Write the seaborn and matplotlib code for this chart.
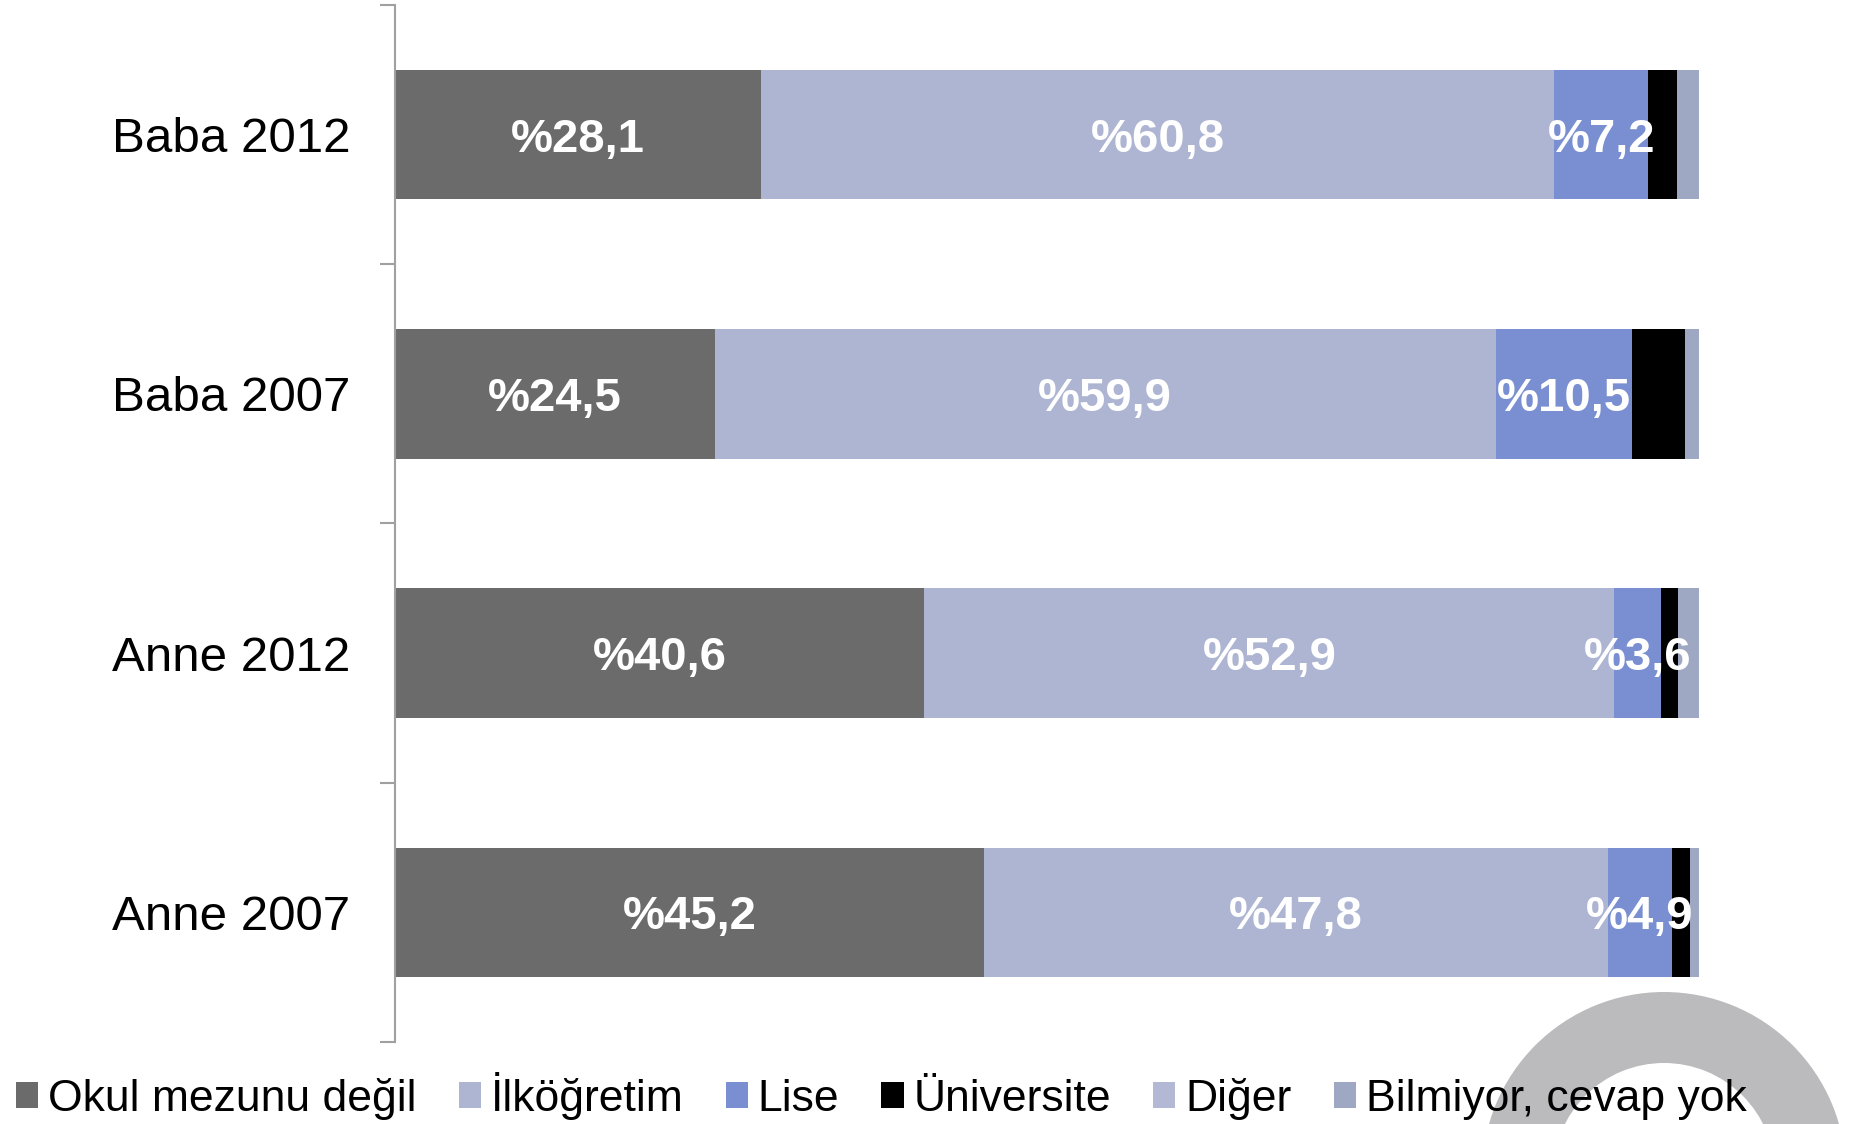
import matplotlib
matplotlib.use("Agg")
from matplotlib import pyplot as plt
from matplotlib.patches import Patch, Wedge
import numpy as np
import pandas as pd
import seaborn as sns

groups = ["Baba 2012", "Baba 2007", "Anne 2012", "Anne 2007"]
series = ["Okul mezunu değil", "İlköğretim", "Lise", "Üniversite", "Diğer", "Bilmiyor, cevap yok"]
okul_degil = [28.1, 24.5, 40.6, 45.2]
ilkogretim = [60.8, 59.9, 52.9, 47.8]
lise = [7.2, 10.5, 3.6, 4.9]
universite = [2.2, 4.0, 1.3, 1.4]
diger = [0.0, 0.0, 0.0, 0.0]
bilmiyor = [1.7, 1.1, 1.6, 0.7]
labelled = ["Okul mezunu değil", "İlköğretim", "Lise"]

colors = ["#6b6b6b", "#adb5d3", "#7a8fd1", "#000000", "#b3b8d4", "#9ea8c3"]

sns.set_style("white")
plt.rcParams["font.family"] = ["Liberation Sans", "DejaVu Sans"]
plt.rcParams["text.color"] = "black"
plt.rcParams["ytick.labelcolor"] = "black"

df = pd.DataFrame(dict(zip(series, [okul_degil, ilkogretim, lise, universite, diger, bilmiyor])), index=groups)
cum = df.cumsum(axis=1)
left = cum - df

fig = plt.figure(figsize=(18.66, 11.24), dpi=100)

# decorative ring behind everything
bg = fig.add_axes([0, 0, 1, 1], zorder=-1)
bg.set_xlim(0, 1866)
bg.set_ylim(1124, 0)
bg.axis("off")
bg.add_patch(Wedge((1664, 1174), 182, 0, 360, width=71, color="#bbbbbd", lw=0))

ax = fig.add_axes([0.2117, 0.0730, 0.6988, 0.9226])
ax.patch.set_alpha(0)

# stacked bars drawn as overlapping cumulative totals, last segment first
for s, c in reversed(list(zip(series, colors))):
    d = pd.DataFrame({"grup": groups, "val": cum[s].values})
    sns.barplot(d, x="val", y="grup", orient="h", color=c, saturation=1,
                width=0.5, linewidth=0, ax=ax)

for s in labelled:
    for i, g in enumerate(groups):
        v = df.loc[g, s]
        txt = f"%{v:.1f}".replace(".", ",")
        ax.text(left.loc[g, s] + v / 2, i, txt, ha="center", va="center_baseline",
                color="white", fontsize=34, fontweight="bold")

ax.set_xlim(0, 100)
ax.set_ylim(3.5, -0.5)
ax.set_xlabel("")
ax.set_ylabel("")
ax.set_xticks([])
ax.set_yticks(range(len(groups)))
ax.set_yticklabels(groups, fontsize=35.5, color="black")
ax.set_yticks(np.arange(-0.5, len(groups), 1), minor=True)
ax.tick_params(axis="y", which="major", length=0, pad=32)
ax.tick_params(axis="y", which="minor", length=11, width=1.5, color="#a0a0a0", direction="out", left=True)
for sp in ["top", "right", "bottom"]:
    ax.spines[sp].set_visible(False)
ax.spines["left"].set_color("#a0a0a0")
ax.spines["left"].set_linewidth(1.5)

handles = [Patch(facecolor=c, edgecolor="none") for c in colors]
fig.legend(handles, series, loc="center left", bbox_to_anchor=(0.0085, 0.025),
           ncol=6, frameon=False, fontsize=32, handlelength=0.5, handleheight=0.5,
           handletextpad=0.22, columnspacing=0.95, borderpad=0, borderaxespad=0)

fig.savefig("out.png", dpi=100)
